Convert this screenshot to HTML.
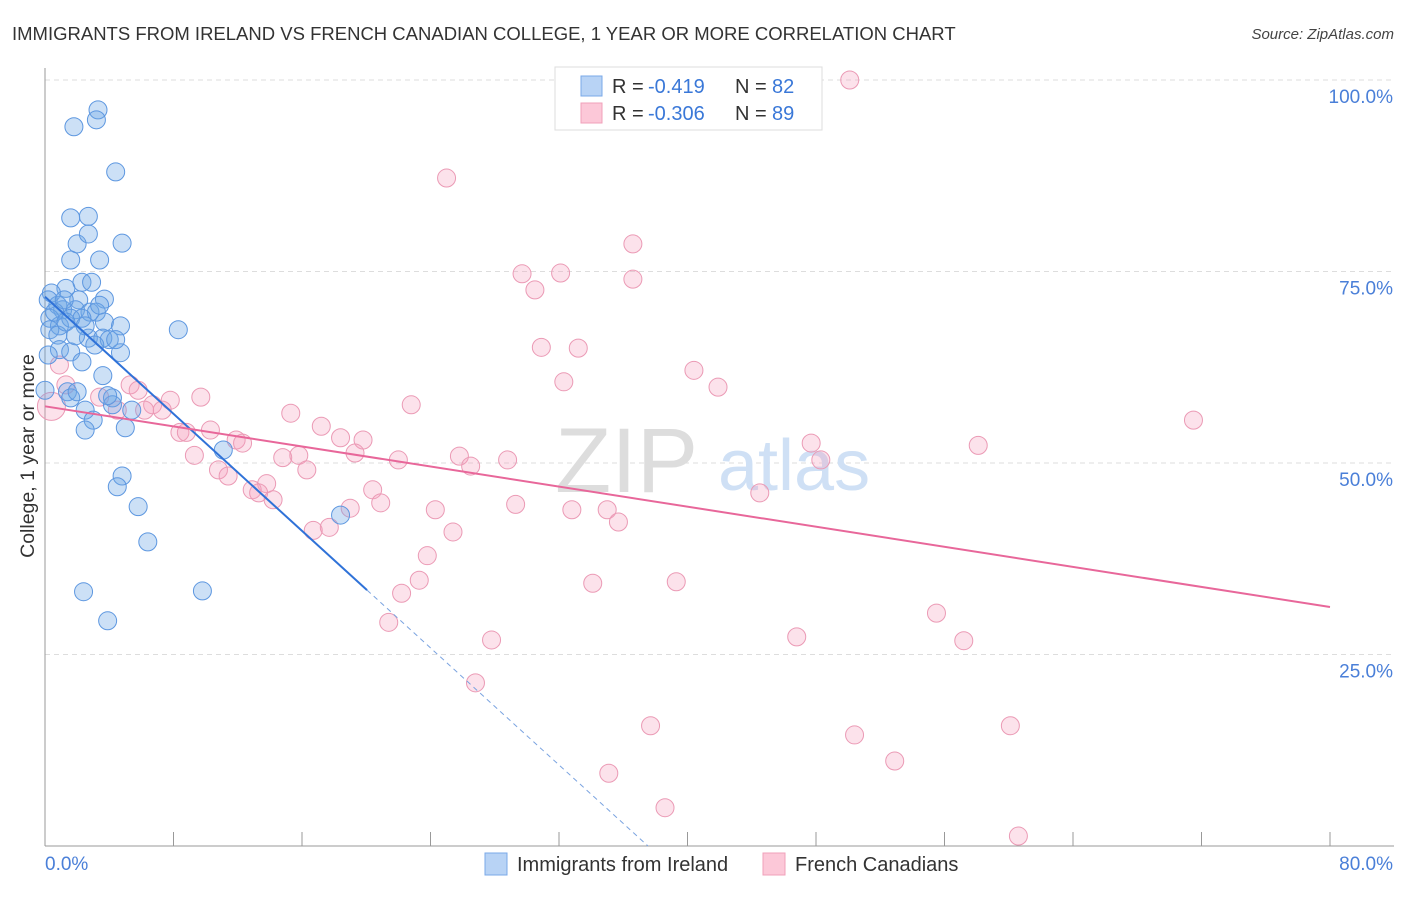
<!DOCTYPE html>
<html><head><meta charset="utf-8"><style>
body{margin:0;background:#fff;font-family:"Liberation Sans",sans-serif}
svg text{font-family:"Liberation Sans",sans-serif}
</style></head><body>
<svg id="chart" width="1406" height="892" xmlns="http://www.w3.org/2000/svg">
<text x="12" y="40" font-size="18.5" fill="#333">IMMIGRANTS FROM IRELAND VS FRENCH CANADIAN COLLEGE, 1 YEAR OR MORE CORRELATION CHART</text>
<text x="1394" y="39" font-size="15" fill="#444" text-anchor="end" font-style="italic">Source: ZipAtlas.com</text>
<g id="grid"></g>
<text x="555" y="492" font-size="92" fill="#ddd" font-family="Liberation Serif">ZIP</text>
<text x="718" y="490" font-size="72" fill="#cfe0f5">atlas</text>
<g id="axes"></g>
<g id="pts"></g>
<g id="lines"></g>
<text transform="translate(34,456) rotate(-90)" font-size="19.5" fill="#333" text-anchor="middle">College, 1 year or more</text>
<g>
<rect x="555" y="67" width="267" height="63" fill="#fff" stroke="#ddd"/>
<rect x="581" y="76" width="21" height="20" fill="#b8d3f5" stroke="#7aa8e8"/>
<rect x="581" y="103" width="21" height="20" fill="#fcc8d8" stroke="#f0a0ba"/>
<text x="612" y="93" font-size="20" fill="#333">R =</text>
<text x="648" y="93" font-size="20" fill="#3a78d8">-0.419</text>
<text x="735" y="93" font-size="20" fill="#333">N =</text>
<text x="772" y="93" font-size="20" fill="#3a78d8">82</text>
<text x="612" y="120" font-size="20" fill="#333">R =</text>
<text x="648" y="120" font-size="20" fill="#3a78d8">-0.306</text>
<text x="735" y="120" font-size="20" fill="#333">N =</text>
<text x="772" y="120" font-size="20" fill="#3a78d8">89</text>
</g>
<g>
<rect x="485" y="853" width="22" height="22" fill="#b8d3f5" stroke="#7aa8e8"/>
<text x="517" y="871" font-size="20" fill="#333">Immigrants from Ireland</text>
<rect x="763" y="853" width="22" height="22" fill="#fcc8d8" stroke="#f0a0ba"/>
<text x="795" y="871" font-size="20" fill="#333">French Canadians</text>
</g>
</svg>
<script>
const yTicks=[100,75,50,25];
const yTickLabels=["100.0%","75.0%","50.0%","25.0%"];
const xTickLabels=["0.0%","80.0%"];
const blueX=[3.3,3.2,1.8,4.4,1.6,2.7,2.0,2.7,4.8,1.6,3.4,2.3,2.9,1.3,0.4,2.1,3.7,0.8,0.2,1.1,1.9,2.8,3.2,0.3,0.9,1.6,2.3,3.7,4.7,0.3,0.8,2.7,3.6,4.0,8.3,0.9,1.6,4.7,0.2,2.3,3.6,1.4,0,4.2,1.6,2.5,4.2,5.4,3.0,2.5,5.0,11.1,4.8,4.5,5.8,18.4,6.4,2.4,9.8,3.9,0.6,1.3,2.5,3.1,1.2,1.9,3.4,4.4,2.0,3.9];
const blueY=[96.1,94.8,93.9,88.0,82.0,82.2,78.6,79.9,78.7,76.5,76.5,73.6,73.6,72.8,72.2,71.3,71.4,70.6,71.3,70.0,70.0,69.7,69.7,68.9,67.9,68.9,68.9,68.4,67.9,67.4,66.7,66.3,66.3,66.1,67.4,64.8,64.5,64.4,64.1,63.2,61.4,59.3,59.5,58.5,58.5,56.9,57.6,56.9,55.6,54.3,54.6,51.7,48.3,46.9,44.3,43.2,39.7,33.2,33.3,29.4,69.7,68.4,67.9,65.4,71.3,66.6,70.6,66.1,59.3,58.8];
const pinkX=[50.1,37.5,25.0,36.6,29.7,32.1,30.5,36.6,30.9,33.2,32.3,40.4,41.9,71.5,58.1,47.7,48.3,44.5,22.8,15.3,17.2,9.7,5.3,5.8,7.8,6.7,7.3,4.5,6.2,3.4,1.3,0.9,0.4,8.4,8.8,10.3,11.9,12.3,9.3,18.4,19.8,19.3,15.8,14.8,22.0,25.8,26.5,28.8,10.8,11.4,16.3,13.8,12.9,13.3,14.2,20.4,20.9,19.0,29.3,24.3,32.8,35.0,35.7,16.7,17.7,25.4,23.8,23.3,34.1,39.3,22.2,21.4,27.8,46.8,55.5,57.2,26.8,37.7,60.1,50.4,52.9,35.1,38.6,60.6];
const pinkY=[100,98.9,87.2,78.6,74.7,74.8,72.6,74.0,65.1,65.0,60.6,62.1,59.9,55.6,52.3,52.6,50.4,46.1,57.6,56.5,54.8,58.6,60.2,59.5,58.2,57.6,56.9,56.9,56.9,58.6,60.2,62.8,57.4,54.0,54.0,54.3,53.0,52.6,51.0,53.3,53.0,51.3,51.0,50.7,50.4,50.9,49.6,50.4,49.1,48.3,49.1,47.3,46.5,46.1,45.2,46.5,44.8,44.1,44.6,43.9,43.9,43.9,42.3,41.2,41.6,41.0,37.9,34.7,34.3,34.5,33.0,29.2,26.9,27.3,30.4,26.8,21.3,15.7,15.7,14.5,11.1,9.5,5.0,1.3];
const blueTrend=[71.7,-1.91];
const pinkTrend=[57.4,-0.3275];
const NS="http://www.w3.org/2000/svg";
const X=v=>45+v/80*1285, Y=v=>846-v/100*766;
function mk(t,a,p){const e=document.createElementNS(NS,t);for(const k in a)e.setAttribute(k,a[k]);document.getElementById(p).appendChild(e);return e;}
yTicks.forEach((t,i)=>{
 const l=mk('line',{x1:45,x2:1394,y1:Y(t),y2:Y(t),stroke:'#ddd','stroke-dasharray':'5,4'},'grid');
 
 
 const tx=mk('text',{x:1393,y:Y(t)+23,'font-size':19,fill:'#4a7fd8','text-anchor':'end'},'axes');
 
 
 tx.textContent=yTickLabels[i];
});
const ya=mk('line',{x1:45,x2:45,y1:68,y2:846,stroke:'#999'},'axes');


const xa=mk('line',{x1:45,x2:1394,y1:846,y2:846,stroke:'#999'},'axes');


for(let i=0;i<=10;i++){const t=mk('line',{x1:X(i*8),x2:X(i*8),y1:832,y2:846,stroke:'#999'},'axes');
 
 }
[[0,'start',45],[1,'end',1393]].forEach(([i,a,x])=>{const t=mk('text',{x:x,y:870,'font-size':19,fill:'#4a7fd8','text-anchor':a},'axes');
 
 
 t.textContent=xTickLabels[i];});
pinkX.forEach((v,i)=>{const c=mk('circle',{cx:X(v),cy:Y(pinkY[i]),r:i==32?14:9,fill:'rgba(245,160,190,0.3)',stroke:'#eb9ab5','stroke-width':1},'pts');
 
 });
blueX.forEach((v,i)=>{const c=mk('circle',{cx:X(v),cy:Y(blueY[i]),r:9,fill:'rgba(110,165,230,0.35)',stroke:'#5d97e0','stroke-width':1},'pts');
 
 });
const bEnd=20.05, bZero=-blueTrend[0]/blueTrend[1];
let l=mk('line',{x1:X(0),y1:Y(blueTrend[0]),x2:X(bEnd),y2:Y(blueTrend[0]+blueTrend[1]*bEnd),stroke:'#2f72d8','stroke-width':2},'lines');


l=mk('line',{x1:X(bEnd),y1:Y(blueTrend[0]+blueTrend[1]*bEnd),x2:X(bZero),y2:Y(0),stroke:'#7aa3e0','stroke-width':1,'stroke-dasharray':'5,4'},'lines');


l=mk('line',{x1:X(0),y1:Y(pinkTrend[0]),x2:X(80),y2:Y(pinkTrend[0]+pinkTrend[1]*80),stroke:'#e8679a','stroke-width':2},'lines');


</script>
</body></html>
